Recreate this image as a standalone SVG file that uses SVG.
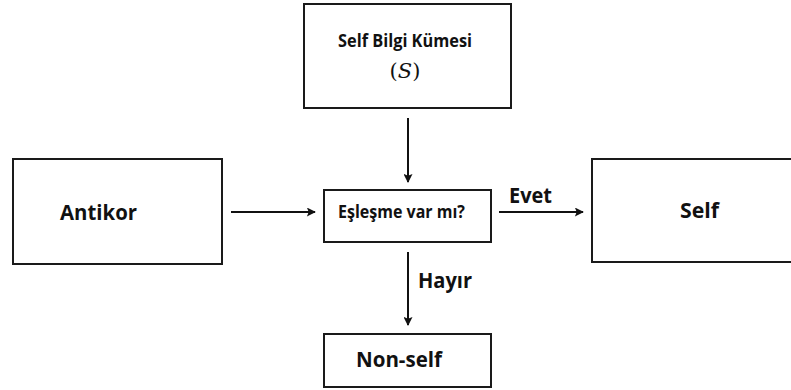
<svg xmlns="http://www.w3.org/2000/svg" width="791" height="390" viewBox="0 0 791 390">
  <style>
    .box { fill: #ffffff; stroke: #1a1a1a; stroke-width: 2; }
    .lbl { font-family: "Open Sans", "Liberation Sans", sans-serif; font-weight: bold; fill: #111111; }
    .math { font-family: "DejaVu Serif", "Liberation Serif", serif; font-style: italic; fill: #111111; }
    .edge { stroke: #111111; stroke-width: 2; fill: none; marker-end: url(#arrow); }
  </style>
  <defs>
    <marker id="arrow" viewBox="0 0 10 10" refX="9" refY="5" markerWidth="10" markerHeight="9" markerUnits="userSpaceOnUse" orient="auto">
      <path d="M0,0 L10,5 L0,10 L2,5 Z" fill="#111111"/>
    </marker>
  </defs>
  <rect width="791" height="390" fill="#ffffff"/>

  <g id="self-set">
    <rect class="box" x="304" y="4" width="207" height="104"/>
    <text class="lbl" x="338" y="47" font-size="17.5" textLength="134" lengthAdjust="spacingAndGlyphs">Self Bilgi Kümesi</text>
    <text class="math" x="405" y="78" font-size="21" text-anchor="middle"><tspan font-style="normal">(</tspan>S<tspan font-style="normal">)</tspan></text>
  </g>

  <g id="antikor">
    <rect class="box" x="13" y="159" width="209" height="105"/>
    <text class="lbl" x="60" y="220" font-size="22" textLength="77" lengthAdjust="spacingAndGlyphs">Antikor</text>
  </g>

  <g id="match">
    <rect class="box" x="324" y="190" width="167" height="52"/>
    <text class="lbl" x="338" y="218" font-size="17.5" textLength="127" lengthAdjust="spacingAndGlyphs">Eşleşme var mı?</text>
  </g>

  <g id="self">
    <rect class="box" x="592" y="159" width="210" height="103"/>
    <text class="lbl" x="680" y="218" font-size="22" textLength="39" lengthAdjust="spacingAndGlyphs">Self</text>
  </g>

  <g id="non-self">
    <rect class="box" x="324" y="334" width="167" height="53"/>
    <text class="lbl" x="356" y="367" font-size="22" textLength="86" lengthAdjust="spacingAndGlyphs">Non-self</text>
  </g>

  <g id="connectors">
    <line class="edge" x1="408" y1="118" x2="408" y2="182"/>
    <line class="edge" x1="231" y1="212" x2="315" y2="212"/>
    <line class="edge" x1="499" y1="212" x2="583" y2="212"/>
    <text class="lbl" x="509" y="203" font-size="22" textLength="43" lengthAdjust="spacingAndGlyphs">Evet</text>
    <line class="edge" x1="408" y1="252" x2="408" y2="325"/>
    <text class="lbl" x="418" y="288" font-size="22" textLength="54" lengthAdjust="spacingAndGlyphs">Hayır</text>
  </g>
</svg>
